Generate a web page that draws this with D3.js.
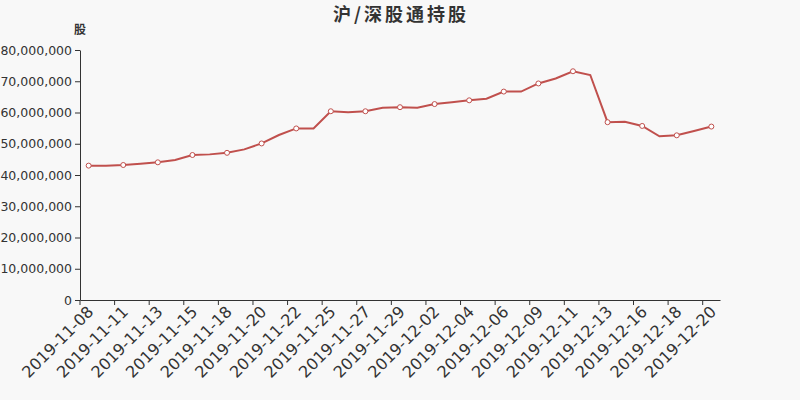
<!DOCTYPE html>
<html><head><meta charset="utf-8">
<script src="https://cdn.jsdelivr.net/npm/d3@7"></script>
<style>body{margin:0;background:#f8f8f8;}svg{display:block;}</style>
</head><body>
<script>
const titleText = "沪/深股通持股";
const yName = "股";
const dates = ["2019-11-08","2019-11-10","2019-11-11","2019-11-12","2019-11-13","2019-11-14","2019-11-15","2019-11-17","2019-11-18","2019-11-19",
"2019-11-20","2019-11-21","2019-11-22","2019-11-24","2019-11-25","2019-11-26","2019-11-27","2019-11-28","2019-11-29","2019-12-01",
"2019-12-02","2019-12-03","2019-12-04","2019-12-05","2019-12-06","2019-12-08","2019-12-09","2019-12-10","2019-12-11","2019-12-12",
"2019-12-13","2019-12-15","2019-12-16","2019-12-17","2019-12-18","2019-12-19","2019-12-20"];
const holdings = [43.0,43.0,43.2,43.6,44.06,44.8,46.4,46.6,47.1,48.2,
50.1,52.8,54.9,54.9,60.4,60.1,60.4,61.5,61.7,61.5,
62.7,63.3,63.9,64.4,66.7,66.7,69.3,70.9,73.2,72.0,
56.9,57.0,55.7,52.4,52.7,54.1,55.5].map(v => v*1e6);
const yTicks = [0,10e6,20e6,30e6,40e6,50e6,60e6,70e6,80e6];

const W=800,H=400, m={l:80,r:80,t:50,b:100};
const svg=d3.select("body").append("svg").attr("width",W).attr("height",H);
svg.append("rect").attr("width",W).attr("height",H).attr("fill","#f8f8f8");

const x=d3.scaleBand().domain(dates).range([m.l,W-m.r]);
const y=d3.scaleLinear().domain([0,80e6]).range([H-m.b,m.t]);

svg.append("text").attr("x",401).attr("y",21).attr("text-anchor","middle")
  .attr("font-family","Noto Sans CJK SC").attr("font-size",18).attr("font-weight","bold")
  .attr("letter-spacing","3px").attr("fill","#333").text(titleText);
svg.append("text").attr("x",80).attr("y",34).attr("text-anchor","middle")
  .attr("font-family","Noto Sans CJK SC").attr("font-size",12).attr("font-weight","bold").attr("fill","#333").text(yName);

const fmt=d3.format(",");
const ya=svg.append("g").attr("transform",`translate(${m.l},0)`)
  .call(d3.axisLeft(y).tickValues(yTicks).tickFormat(fmt).tickSize(5).tickSizeOuter(0));
ya.selectAll("text").attr("font-family","DejaVu Sans").attr("font-size",12.5).attr("fill","#333");
ya.selectAll("line,path").attr("stroke","#333");

const xa=svg.append("g").attr("transform",`translate(0,${H-m.b})`)
  .call(d3.axisBottom(x).tickValues([]).tickSizeOuter(0));
xa.select("path").attr("stroke","#333");
const tickDates = dates.filter((d,i)=>i%2===0);
xa.selectAll(".bt").data(tickDates).enter().append("line").attr("class","bt")
  .attr("x1",d=>x(d)).attr("x2",d=>x(d)).attr("y1",0).attr("y2",5).attr("stroke","#333");
xa.selectAll(".lbl").data(tickDates).enter().append("text").attr("class","lbl")
  .attr("transform",d=>`translate(${x(d)+x.bandwidth()/2-2},5) rotate(-45)`)
  .attr("text-anchor","end").attr("dy","0.7em")
  .attr("font-family","DejaVu Sans").attr("font-size",16).attr("fill","#333").text(d=>d);

const col="#c0504d";
const line=d3.line().x((d,i)=>x(dates[i])+x.bandwidth()/2).y(d=>y(d));
svg.append("path").datum(holdings).attr("d",line).attr("fill","none").attr("stroke",col).attr("stroke-width",2);
svg.selectAll(".pt").data(holdings.map((v,i)=>[i,v]).filter(d=>d[0]%2===0)).enter().append("circle")
  .attr("cx",d=>x(dates[d[0]])+x.bandwidth()/2).attr("cy",d=>y(d[1])).attr("r",2.5)
  .attr("fill","#fff").attr("stroke",col).attr("stroke-width",1);
</script>
</body></html>
